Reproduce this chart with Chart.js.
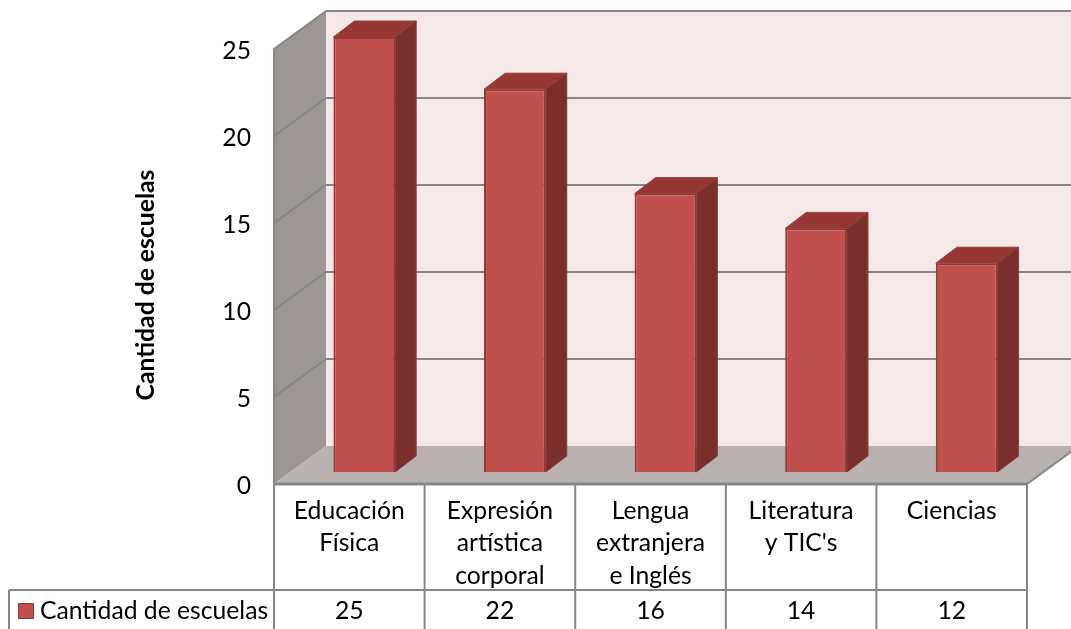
<!DOCTYPE html>
<html>
<head>
<meta charset="utf-8">
<title>Cantidad de escuelas</title>
<style>
  html, body { margin: 0; padding: 0; background: #fff; overflow: hidden; }
  canvas { display: block; }
</style>
<script src="https://cdn.jsdelivr.net/npm/chart.js@4/dist/chart.umd.js"></script>
</head>
<body>
<canvas id="chart" width="1071" height="629"></canvas>
<script>
const categories = [['Educación', 'Física'], ['Expresión', 'artística', 'corporal'], ['Lengua', 'extranjera', 'e Inglés'], ['Literatura', "y TIC's"], ['Ciencias']];
const seriesName = 'Cantidad de escuelas';
const values = [25, 22, 16, 14, 12];

const FONT = 'Lato, "Open Sans", sans-serif';
const FONT_SIZE = 24.7;
const LINE = '#868686';
// fake 3D: how far the axis plane and the back wall sit from the bar plane
const front = { dx: -15, dy: 12 };
const back = { dx: 37, dy: -26 };
const barDepth = { dx: 21, dy: -16 };
const tableTop = 590;
const tableLeft = 9;

function poly(ctx, pts, fill, stroke, width) {
    ctx.beginPath();
    pts.forEach((p, i) => i ? ctx.lineTo(p[0], p[1]) : ctx.moveTo(p[0], p[1]));
    ctx.closePath();
    if (fill) { ctx.fillStyle = fill; ctx.fill(); }
    if (stroke) { ctx.strokeStyle = stroke; ctx.lineWidth = width || 1; ctx.stroke(); }
}

function seg(ctx, x1, y1, x2, y2, width) {
    ctx.beginPath();
    ctx.moveTo(x1, y1);
    ctx.lineTo(x2, y2);
    ctx.strokeStyle = LINE;
    ctx.lineWidth = width || 2;
    ctx.stroke();
}

const walls = {
    id: 'walls',
    beforeDatasetsDraw(chart) {
        const { ctx, scales: { x, y } } = chart;
        const left = x.left, right = x.right;
        const y0 = y.getPixelForValue(0), yMax = y.getPixelForValue(25);
        const fl = left + front.dx, fr = right + front.dx;
        const bl = left + back.dx, br = right + back.dx;

        ctx.save();
        poly(ctx, [[bl, yMax + back.dy], [br, yMax + back.dy], [br, y0 + back.dy], [bl, y0 + back.dy]], '#f4e8e8');
        poly(ctx, [[fl, y0 + front.dy], [fl, yMax + front.dy], [bl, yMax + back.dy], [bl, y0 + back.dy]], '#9c9695');
        poly(ctx, [[fl, y0 + front.dy], [fr, y0 + front.dy], [br, y0 + back.dy], [bl, y0 + back.dy]], '#b9b0b0');

        y.ticks.forEach(t => {
            const py = y.getPixelForValue(t.value);
            if (t.value > 0) {
                seg(ctx, bl, py + back.dy, br, py + back.dy);
                seg(ctx, fl, py + front.dy, bl, py + back.dy);
            }
        });
        seg(ctx, fl, yMax + front.dy, fl, y0 + front.dy);
        seg(ctx, fl, y0 + front.dy, fr, y0 + front.dy, 3);
        seg(ctx, fr, y0 + front.dy, br, y0 + back.dy);

        // side and top of each bar
        chart.getDatasetMeta(0).data.forEach(bar => {
            const l = bar.x - bar.width / 2, r = bar.x + bar.width / 2;
            const d = barDepth;
            poly(ctx, [[l, bar.y], [r, bar.y], [r + d.dx, bar.y + d.dy], [l + d.dx, bar.y + d.dy]], '#943735', '#9a4240', 1);
            poly(ctx, [[r, bar.y], [r + d.dx, bar.y + d.dy], [r + d.dx, bar.base + d.dy], [r, bar.base]], '#7a2f2d', '#85403e', 1);
        });
        ctx.restore();
    }
};

const dataTable = {
    id: 'dataTable',
    afterDraw(chart) {
        const { ctx, scales: { x, y } } = chart;
        const bottom = chart.height;
        const top = y.getPixelForValue(0) + front.dy;
        const step = (x.right - x.left) / values.length;

        ctx.save();
        for (let i = 0; i <= values.length; i++) {
            const px = x.left + front.dx + step * i;
            seg(ctx, px, top, px, bottom);
        }
        seg(ctx, tableLeft, tableTop, x.right + front.dx, tableTop);
        seg(ctx, tableLeft, tableTop, tableLeft, bottom);

        // legend key sits in the first table cell
        poly(ctx, [[18.5, 603.5], [33.5, 603.5], [33.5, 618.5], [18.5, 618.5]], '#c0504d', '#953735', 1);

        ctx.font = FONT_SIZE + 'px ' + FONT;
        ctx.fillStyle = '#000';
        ctx.textBaseline = 'middle';
        ctx.textAlign = 'center';
        values.forEach((v, i) => {
            ctx.fillText(String(v), x.getPixelForTick(i) + front.dx, 611);
        });
        ctx.textAlign = 'left';
        ctx.fillText(seriesName, 40, 611);

        // axis title, centred lower than the scale's own title would be
        ctx.translate(146, 285);
        ctx.rotate(-Math.PI / 2);
        ctx.textAlign = 'center';
        ctx.font = 'bold ' + FONT_SIZE + 'px ' + FONT;
        ctx.fillText(seriesName, 0, 0);
        ctx.restore();
    }
};

new Chart(document.getElementById('chart'), {
    type: 'bar',
    data: {
        labels: categories,
        datasets: [{
            label: seriesName,
            data: values,
            backgroundColor: '#c0504d',
            borderColor: '#953735',
            borderWidth: 2,
            barPercentage: 0.41,
            categoryPercentage: 1
        }]
    },
    options: {
        responsive: false,
        animation: false,
        layout: { padding: { top: 37, right: 29, left: 0, bottom: 0 } },
        plugins: { legend: { display: false }, tooltip: { enabled: false } },
        scales: {
            x: {
                grid: { display: false, drawTicks: false },
                border: { display: false },
                afterFit(scale) { scale.height = 157; },
                ticks: {
                    color: '#000',
                    font: { family: FONT, size: FONT_SIZE, lineHeight: 1.31 },
                    autoSkip: false,
                    maxRotation: 0,
                    minRotation: 0,
                    labelOffset: front.dx,
                    padding: 23
                }
            },
            y: {
                min: 0,
                max: 25,
                grid: { display: false, drawTicks: false },
                border: { display: false },
                afterFit(scale) {
                    scale.width = 289;
                    scale.paddingTop = 0;
                    scale.paddingBottom = 0;
                },
                ticks: {
                    stepSize: 5,
                    color: '#000',
                    font: { family: FONT, size: FONT_SIZE },
                    labelOffset: 14,
                    padding: 38
                }
            }
        }
    },
    plugins: [walls, dataTable]
});
</script>
</body>
</html>
